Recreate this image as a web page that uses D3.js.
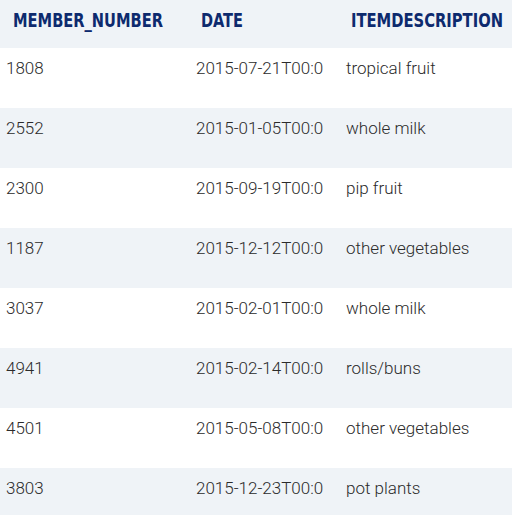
<!DOCTYPE html>
<html><head><meta charset="utf-8">
<script src="https://cdn.jsdelivr.net/npm/d3@7"></script>
<style>body{margin:0;background:#fff}</style></head>
<body><svg id="c" width="512" height="515"></svg>
<script>
const columns = ["MEMBER_NUMBER","DATE","ITEMDESCRIPTION"];
const memberNumbers = ["1808","2552","2300","1187","3037","4941","4501","3803"];
const dates = ["2015-07-21T00:00:00","2015-01-05T00:00:00","2015-09-19T00:00:00","2015-12-12T00:00:00","2015-02-01T00:00:00","2015-02-14T00:00:00","2015-05-08T00:00:00","2015-12-23T00:00:00"];
const items = ["tropical fruit","whole milk","pip fruit","other vegetables","whole milk","rolls/buns","other vegetables","pot plants"];

const svg = d3.select("#c");
const W = 512, headH = 48, rowH = 60;
const colX = [0, 190, 340, 512];
const headX = [13, 201, 351];
const headW = [150, 42, 152];
const bodyX = [6, 196, 346];
const maxW = [180, 130, 166];
const rows = d3.range(memberNumbers.length).map(i => [memberNumbers[i], dates[i], items[i]]);
const y = d3.scaleBand().domain(d3.range(rows.length)).range([headH, headH + rowH*rows.length]);

svg.append("rect").attr("width", W).attr("height", headH).attr("fill", "#eff3f7");
svg.append("g").selectAll("text").data(columns).join("text")
  .attr("x", (d,i) => headX[i]).attr("y", 21)
  .attr("font-family", "'DejaVu Sans Condensed','DejaVu Sans'").attr("font-stretch","condensed")
  .attr("font-weight", "bold").attr("font-size", 19).attr("fill", "#0d2a6e")
  .attr("textLength",(d,i)=>headW[i]).attr("lengthAdjust","spacingAndGlyphs")
  .attr("dominant-baseline","middle").text(d => d);

const g = svg.append("g").selectAll("g").data(rows).join("g");
g.append("rect").attr("x",0).attr("width",W).attr("y",(d,i)=>y(i)).attr("height",rowH)
  .attr("fill",(d,i)=> i%2 ? "#eff3f7" : "#ffffff");
g.each(function(r,i){
  d3.select(this).selectAll("text").data(r).join("text")
    .attr("x",(d,j)=>bodyX[j]).attr("y", y(i)+22)
    .attr("dominant-baseline","middle")
    .attr("font-family","Roboto, 'Noto Sans', sans-serif").attr("font-weight",300)
    .attr("font-size",17).attr("fill","#2b2b2b").text(d=>d)
    .each(function(d,j){
      const t = d3.select(this);
      let s = d;
      while (this.getComputedTextLength() > maxW[j] && s.length > 1) { s = s.slice(0,-1); t.text(s); }
    });
});
</script></body></html>
